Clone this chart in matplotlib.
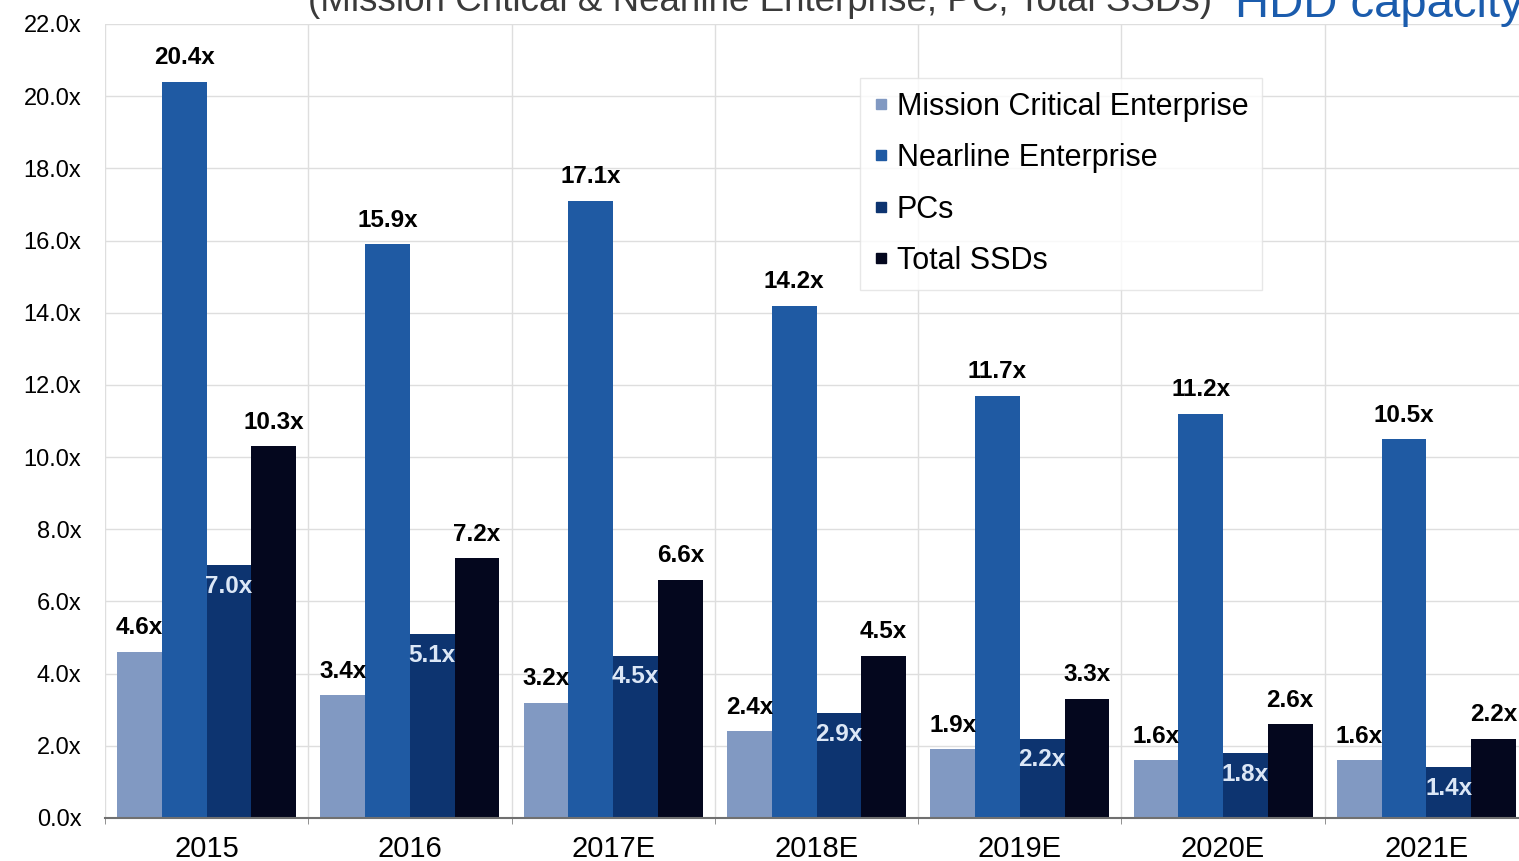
import numpy as np
import matplotlib.pyplot as plt
from matplotlib.lines import Line2D

years = ['2015', '2016', '2017E', '2018E', '2019E', '2020E', '2021E']
mission_critical = [4.6, 3.4, 3.2, 2.4, 1.9, 1.6, 1.6]
nearline = [20.4, 15.9, 17.1, 14.2, 11.7, 11.2, 10.5]
pcs = [7.0, 5.1, 4.5, 2.9, 2.2, 1.8, 1.4]
total_ssds = [10.3, 7.2, 6.6, 4.5, 3.3, 2.6, 2.2]

series = [
    ('Mission Critical Enterprise', mission_critical, '#8199c2', 'black'),
    ('Nearline Enterprise', nearline, '#1f5aa3', 'black'),
    ('PCs', pcs, '#0d3470', '#dce7f6'),
    ('Total SSDs', total_ssds, '#04071e', 'black'),
]

plt.rcParams['font.family'] = ['Liberation Sans', 'DejaVu Sans']

W, H = 1519, 861
fig = plt.figure(figsize=(W / 100, H / 100), dpi=100)
left, right = 105, 1528
bottom, top = 818, 24
ax = fig.add_axes([left / W, (H - bottom) / H, (right - left) / W, (bottom - top) / H])

x = np.arange(len(years))
bw = 0.22
for i, (name, vals, col, tcol) in enumerate(series):
    xs = x + (i - 1.5) * bw
    bars = ax.bar(xs, vals, width=bw, color=col, zorder=2)
    for b, v in zip(bars, vals):
        cx = b.get_x() + b.get_width() / 2
        if name == 'PCs':
            ax.annotate(f'{v:.1f}x', (cx, v), xytext=(0, -7), textcoords='offset points',
                        ha='center', va='top', fontsize=17.5, fontweight='bold', color=tcol, zorder=3)
        else:
            ax.annotate(f'{v:.1f}x', (cx, v), xytext=(0, 9), textcoords='offset points',
                        ha='center', va='bottom', fontsize=17.5, fontweight='bold', color=tcol, zorder=3)

ax.set_xlim(-0.5, len(years) - 0.5)
ax.set_ylim(0, 22)
ax.set_yticks(np.arange(0, 22.1, 2))
ax.set_yticklabels([f'{t:.1f}x' for t in np.arange(0, 22.1, 2)], fontsize=17)
ax.set_xticks(x)
ax.set_xticklabels(years, fontsize=21)
ax.set_xticks(np.arange(-0.5, len(years)), minor=True)
ax.tick_params(axis='y', length=0, pad=17)
ax.tick_params(axis='x', which='major', length=0, pad=12)
ax.tick_params(axis='x', which='minor', length=4, color='#808080')

ax.grid(axis='y', color='#dedede', lw=1, zorder=0)
ax.grid(axis='x', which='minor', color='#dedede', lw=1, zorder=0)
for s in ['top', 'right', 'left']:
    ax.spines[s].set_visible(False)
ax.spines['bottom'].set_color('#707070')
ax.spines['bottom'].set_linewidth(1.5)

handles = [Line2D([], [], marker='s', ls='none', markersize=7, color=c) for _, _, c, _ in series]
leg = fig.legend(handles, [s[0] for s in series], loc='upper left',
                 bbox_to_anchor=(860 / W, 1 - 78 / H), fontsize=22, frameon=True,
                 fancybox=False, handlelength=0.5, handletextpad=0.25, labelspacing=0.7,
                 borderpad=0.45, borderaxespad=0)
leg.get_frame().set_edgecolor('#e2e2e2')
leg.get_frame().set_linewidth(1)

fig.text(760 / W, 1 - 11 / H, '(Mission Critical & Nearline Enterprise, PC, Total SSDs)',
         ha='center', va='baseline', fontsize=26.5, color='#3a3a3a')
fig.text(1235 / W, 1 - 17 / H, 'HDD capacity', ha='left', va='baseline',
         fontsize=34, color='#1b5cad')

fig.savefig('out.png', dpi=100)
